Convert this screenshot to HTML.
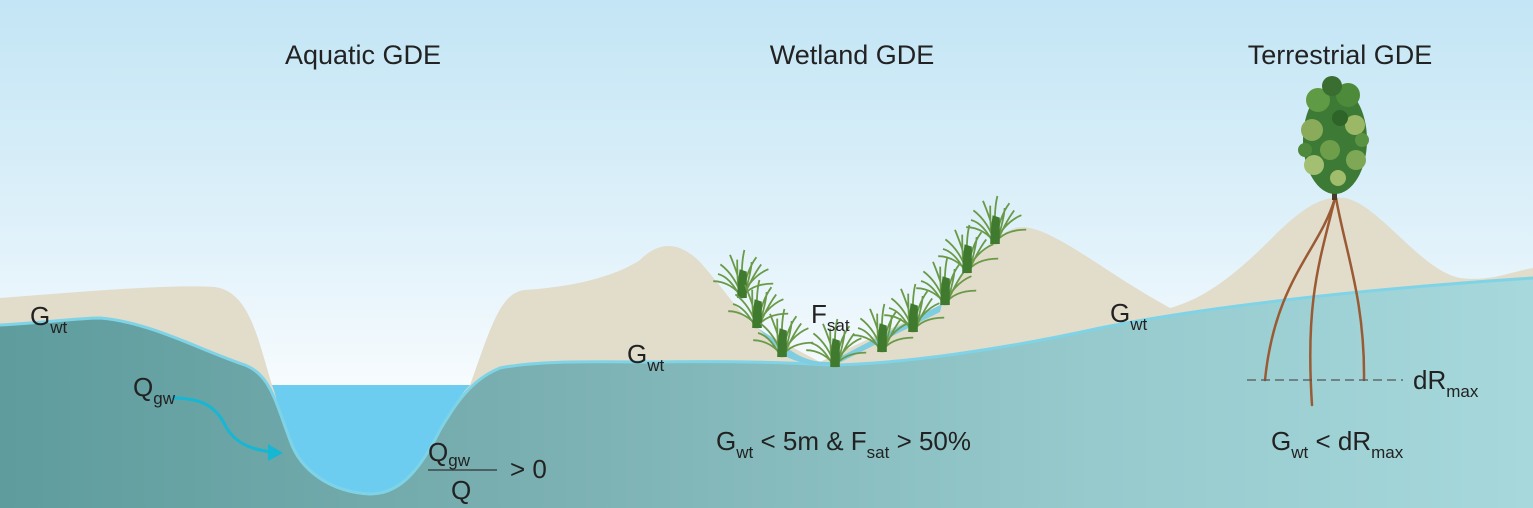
<!DOCTYPE html>
<html><head><meta charset="utf-8"><style>
html,body{margin:0;padding:0;background:#fff}
svg{display:block}
text{font-family:"Liberation Sans","DejaVu Sans",sans-serif;fill:#222}
</style></head><body>
<svg width="1533" height="508" viewBox="0 0 1533 508" xmlns="http://www.w3.org/2000/svg">
<defs>
<linearGradient id="sky" x1="0" y1="0" x2="0" y2="1">
<stop offset="0" stop-color="#c3e5f5"/><stop offset="0.45" stop-color="#dff1fa"/><stop offset="0.75" stop-color="#f6fbfe"/><stop offset="1" stop-color="#ffffff"/>
</linearGradient>
<linearGradient id="gw" x1="0" y1="0" x2="1" y2="0">
<stop offset="0" stop-color="#5e9c9d"/><stop offset="0.35" stop-color="#7bb0b2"/><stop offset="0.7" stop-color="#95c9cc"/><stop offset="1" stop-color="#a6d8dc"/>
</linearGradient>
<g id="grass">
<path d="M0 0 C-3 -12 -10 -22 -18 -28 M0 0 C-1 -14 -6 -26 -10 -36 M0 0 C0 -14 -1 -28 2 -40 M0 0 C2 -14 6 -26 12 -34 M0 0 C3 -10 12 -20 22 -24 M0 0 C4 -8 14 -12 26 -12 M0 0 C-4 -8 -14 -14 -24 -14 M-2 0 C-4 -12 -4 -24 -4 -32 M2 0 C4 -12 8 -22 8 -30 M-1 0 C-6 -10 -12 -18 -20 -20 M1 0 C6 -12 10 -20 16 -28" stroke="#6a9a48" stroke-width="1.5" fill="none"/>
<path d="M-4 0 C-4 -8 -3 -16 -2 -24 L4 -22 C4 -12 4 -6 4 0 Z" fill="#3f7a2f"/>
</g>
</defs>
<rect width="1533" height="508" fill="url(#sky)"/>
<!-- sand -->
<path d="M0 298 C80 292 170 284 215 287 C250 292 258 340 272 385 L470 385 C490 330 500 292 525 290 C560 288 610 280 640 260 C660 240 680 242 700 262 C725 290 740 315 760 330 L820 362 L940 305 C960 280 985 238 1015 228 C1045 220 1100 270 1170 308 C1200 300 1230 280 1270 240 C1300 210 1320 195 1345 198 C1380 205 1420 270 1460 278 C1490 282 1510 272 1533 268 L1533 508 L0 508 Z" fill="#e2dccb"/>
<!-- river -->
<path d="M272 385 L470 385 C455 400 440 430 420 465 C405 490 385 496 365 494 C330 490 305 470 292 445 C280 420 278 400 272 385 Z" fill="#6ccdf0"/>
<!-- groundwater -->
<path d="M0 325 C40 323 80 318 100 318 C150 322 200 350 245 365 C270 375 275 400 290 440 C300 470 330 492 370 494 C400 494 420 470 440 430 C455 405 470 380 500 368 C540 360 600 362 650 362 C720 361 780 362 830 365 C900 364 1000 350 1100 328 C1200 308 1350 290 1533 278 L1533 508 L0 508 Z" fill="url(#gw)"/>
<path d="M0 325 C40 323 80 318 100 318 C150 322 200 350 245 365 C270 375 275 400 290 440 C300 470 330 492 370 494 C400 494 420 470 440 430 C455 405 470 380 500 368 C540 360 600 362 650 362 C720 361 780 362 830 365 C900 364 1000 350 1100 328 C1200 308 1350 290 1533 278" fill="none" stroke="#7fd3e6" stroke-width="3"/>
<!-- wetland saturated band -->
<path d="M758 328 L790 350 C805 360 815 362 830 362 L942 304 L940 312 L835 365 C815 366 800 364 785 356 Z" fill="#7fcde0"/>
<!-- grasses -->
<use href="#grass" transform="translate(742 298) scale(1.2)"/>
<use href="#grass" transform="translate(757 328) scale(1.2)"/>
<use href="#grass" transform="translate(782 357) scale(1.2)"/>
<use href="#grass" transform="translate(835 367) scale(1.2)"/>
<use href="#grass" transform="translate(882 352) scale(1.2)"/>
<use href="#grass" transform="translate(913 332) scale(1.2)"/>
<use href="#grass" transform="translate(945 305) scale(1.2)"/>
<use href="#grass" transform="translate(967 273) scale(1.2)"/>
<use href="#grass" transform="translate(995 244) scale(1.2)"/>
<!-- roots -->
<g stroke="#9a5a34" fill="none" stroke-linecap="round">
<path d="M1335 198 C1320 250 1275 280 1265 380" stroke-width="2.5"/>
<path d="M1335 198 C1320 260 1305 300 1312 405" stroke-width="2.5"/>
<path d="M1336 198 C1345 250 1365 300 1364 380" stroke-width="2.5"/>
</g>
<!-- tree -->
<rect x="1332" y="150" width="5" height="50" fill="#4a3a2a"/>
<g>
<ellipse cx="1335" cy="140" rx="32" ry="54" fill="#3d7a35"/>
<circle cx="1318" cy="100" r="12" fill="#5f9a45"/><circle cx="1348" cy="95" r="12" fill="#4d8a3a"/>
<circle cx="1332" cy="86" r="10" fill="#3a6e30"/><circle cx="1312" cy="130" r="11" fill="#8aab5a"/>
<circle cx="1355" cy="125" r="10" fill="#9ab866"/><circle cx="1330" cy="150" r="10" fill="#6e9e4a"/>
<circle cx="1314" cy="165" r="10" fill="#a3bf72"/><circle cx="1356" cy="160" r="10" fill="#7ea855"/>
<circle cx="1340" cy="118" r="8" fill="#2f6428"/><circle cx="1338" cy="178" r="8" fill="#9fbd6a"/>
<circle cx="1305" cy="150" r="7" fill="#4f8a3c"/><circle cx="1362" cy="140" r="7" fill="#5a9442"/>
</g>
<!-- dashed line -->
<line x1="1247" y1="380" x2="1403" y2="380" stroke="#555" stroke-width="1.3" stroke-dasharray="9,5"/>
<!-- Qgw arrow -->
<path d="M172 398 C200 398 215 405 225 425 C235 445 255 450 272 452" stroke="#17b6d3" stroke-width="3" fill="none"/>
<path d="M283 453 L268 444 L268 461 Z" fill="#17b6d3"/>
<!-- titles -->
<text x="363" y="64" font-size="27" text-anchor="middle">Aquatic GDE</text>
<text x="852" y="64" font-size="27" text-anchor="middle">Wetland GDE</text>
<text x="1340" y="64" font-size="27" text-anchor="middle">Terrestrial GDE</text>
<!-- labels -->
<text x="30" y="325" font-size="26">G<tspan font-size="17" dy="8">wt</tspan></text>
<text x="133" y="396" font-size="26">Q<tspan font-size="17" dy="8">gw</tspan></text>
<text x="428" y="461" font-size="26">Q<tspan font-size="17" dy="5">gw</tspan></text>
<line x1="428" y1="470" x2="497" y2="470" stroke="#333" stroke-width="1.3"/>
<text x="451" y="499" font-size="26">Q</text>
<text x="510" y="478" font-size="26">&gt; 0</text>
<text x="627" y="363" font-size="26">G<tspan font-size="17" dy="8">wt</tspan></text>
<text x="811" y="323" font-size="26">F<tspan font-size="17" dy="8">sat</tspan></text>
<text x="1110" y="322" font-size="26">G<tspan font-size="17" dy="8">wt</tspan></text>
<text x="1413" y="389" font-size="26">dR<tspan font-size="17" dy="8">max</tspan></text>
<text x="716" y="450" font-size="26">G<tspan font-size="17" dy="8">wt</tspan><tspan dy="-8"> &lt; 5m &amp; F</tspan><tspan font-size="17" dy="8">sat</tspan><tspan dy="-8"> &gt; 50%</tspan></text>
<text x="1271" y="450" font-size="26">G<tspan font-size="17" dy="8">wt</tspan><tspan dy="-8"> &lt; dR</tspan><tspan font-size="17" dy="8">max</tspan></text>
</svg>
</body></html>
